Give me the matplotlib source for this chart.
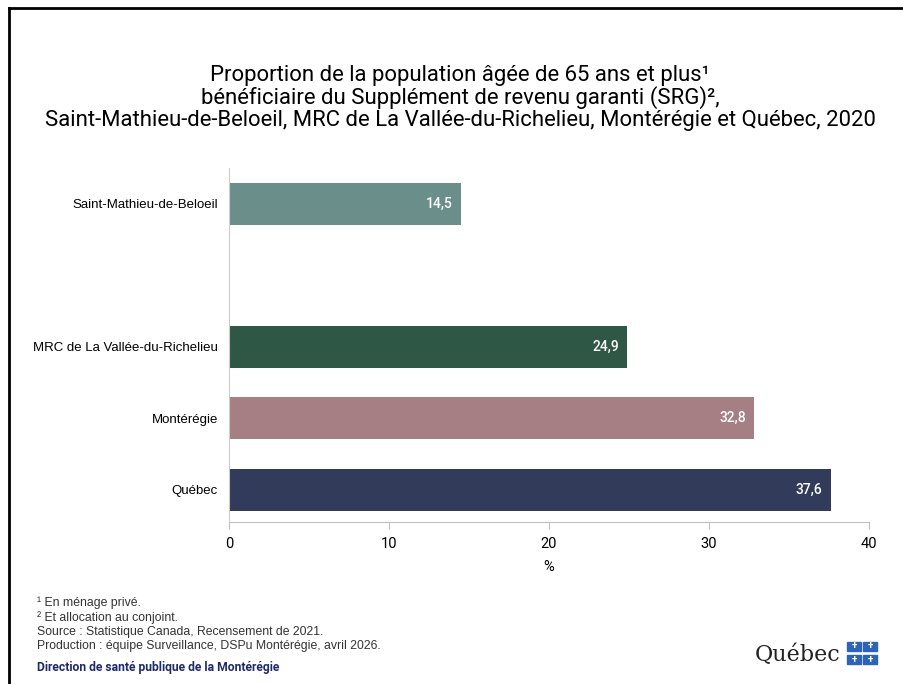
import matplotlib
matplotlib.use('Agg')
import matplotlib.pyplot as plt
from matplotlib.patches import Rectangle
from matplotlib.lines import Line2D

# Données
regions = ['Québec', 'Montérégie', 'MRC de La Vallée-du-Richelieu', 'Saint-Mathieu-de-Beloeil']
positions = [0, 1, 2, 4]
valeurs = [37.6, 32.8, 24.9, 14.5]
couleurs = ['#323b5a', '#a67f85', '#2f5746', '#6a8f8a']
xticks = [0, 10, 20, 30, 40]

titre = ('Proportion de la population âgée de 65 ans et plus¹\n'
         'bénéficiaire du Supplément de revenu garanti (SRG)²,\n'
         'Saint-Mathieu-de-Beloeil, MRC de La Vallée-du-Richelieu, Montérégie et Québec, 2020')
notes = ['¹ En ménage privé.',
         '² Et allocation au conjoint.',
         'Source : Statistique Canada, Recensement de 2021.',
         'Production : équipe Surveillance, DSPu Montérégie, avril 2026.']

plt.rcParams['font.family'] = ['Roboto', 'DejaVu Sans']

fig = plt.figure(figsize=(9.04, 6.84), dpi=100)
ax = fig.add_axes([0.2533, 0.2368, 0.708, 0.5176])

ax.barh(positions, valeurs, height=0.59, color=couleurs)
for p, v in zip(positions, valeurs):
    ax.text(v - 0.5, p, f'{v:.1f}'.replace('.', ','), ha='right', va='center',
            color='white', fontsize=10, fontweight='medium')

ax.set_xlim(0, 40)
ax.set_ylim(-0.45, 4.5)
ax.set_xticks(xticks)
ax.set_yticks(positions)
ax.set_yticklabels(regions, fontsize=9.5, family=['Liberation Sans', 'DejaVu Sans'])
ax.tick_params(axis='y', length=0, pad=8)
ax.tick_params(axis='x', length=5, color='#bfbfbf', labelsize=10.5, pad=6)
ax.set_xlabel('%', fontsize=10.5, labelpad=6)
for s in ['top', 'right']:
    ax.spines[s].set_visible(False)
ax.spines['left'].set_color('#cccccc')
ax.spines['bottom'].set_color('#bfbfbf')

fig.text(0.509, 1 - 65 / 684, titre, ha='center', va='top', fontsize=15.9,
         linespacing=1.02)

y0 = 1 - 603 / 684
for i, n in enumerate(notes):
    fig.text(0.041, y0 - i * 14.3 / 684, n, fontsize=8.8, color='#333333', va='center',
             family=['Liberation Sans', 'DejaVu Sans'])
fig.text(0.041, 1 - 667 / 684, 'Direction de santé publique de la Montérégie',
         fontsize=8.7, fontweight='bold', color='#1f2a6b', va='center')

# Logo Québec
fig.text(841 / 904, 1 - 655 / 684, 'Québec', ha='right', va='center', fontsize=16,
         family='DejaVu Serif', color='#222222')
for dx in (0, 1):
    for dy in (0, 1):
        rx = (847 + dx * 16) / 904
        ry = 1 - (651 + dy * 13) / 684
        fig.patches.append(Rectangle((rx, ry), 14 / 904, 9 / 684,
                                     transform=fig.transFigure, color='#2d63b8'))
        fig.text(rx + 7 / 904, ry + 4.5 / 684, '+', color='white', fontsize=7,
                 ha='center', va='center', fontweight='bold')

# Cadre
fig.lines.append(Line2D([9 / 904, 9 / 904], [0, 1 - 8 / 684], transform=fig.transFigure,
                        color='black', lw=2))
fig.lines.append(Line2D([9 / 904, 1], [1 - 8 / 684, 1 - 8 / 684], transform=fig.transFigure,
                        color='black', lw=2))

fig.savefig('out.png', dpi=100)
